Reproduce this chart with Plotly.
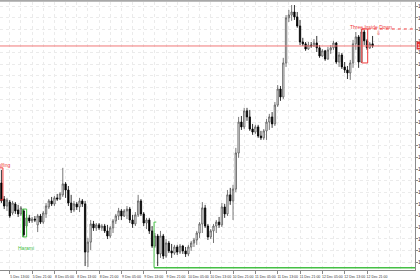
import plotly.graph_objects as go

# ---------------- data (H1 candles, EURUSD-like) ----------------
bars = list(range(134))

open_ = [1.17140, 1.17071, 1.17041, 1.17058, 1.17011, 1.17050, 1.17024, 1.17007, 1.17020, 1.16955,
         1.16990, 1.16977, 1.16985, 1.16960, 1.16998, 1.16972, 1.17007, 1.17037, 1.17063, 1.17050,
         1.17076, 1.17071, 1.17089, 1.17136, 1.17110, 1.17054, 1.17024, 1.17050, 1.17037, 1.17063,
         1.17050, 1.16843, 1.16886, 1.16964, 1.16947, 1.16960, 1.16947, 1.16955, 1.16934, 1.16912,
         1.16947, 1.16977, 1.16998, 1.17020, 1.16998, 1.17020, 1.17028, 1.16981, 1.16964, 1.17003,
         1.17063, 1.17007, 1.16968, 1.16981, 1.16934, 1.16869, 1.16912, 1.16835, 1.16912, 1.16826,
         1.16882, 1.16848, 1.16839, 1.16865, 1.16843, 1.16869, 1.16848, 1.16835, 1.16865, 1.16882,
         1.16895, 1.16925, 1.16964, 1.17033, 1.16955, 1.16908, 1.16934, 1.16955, 1.16972, 1.16960,
         1.17037, 1.17007, 1.17089, 1.17063, 1.17114, 1.17269, 1.17402, 1.17381, 1.17450, 1.17424,
         1.17372, 1.17359, 1.17381, 1.17342, 1.17334, 1.17364, 1.17402, 1.17424, 1.17394, 1.17475,
         1.17544, 1.17510, 1.17656, 1.17850, 1.17862, 1.17875, 1.17854, 1.17815, 1.17746, 1.17738,
         1.17716, 1.17733, 1.17729, 1.17742, 1.17721, 1.17686, 1.17708, 1.17673, 1.17712, 1.17721,
         1.17742, 1.17660, 1.17690, 1.17639, 1.17626, 1.17613, 1.17656, 1.17738, 1.17768, 1.17660,
         1.17789, 1.17751, 1.17721, 1.17738]

high = [1.17196, 1.17084, 1.17076, 1.17067, 1.17063, 1.17058, 1.17046, 1.17041, 1.17028, 1.17007,
        1.17003, 1.16994, 1.16998, 1.17007, 1.17007, 1.17020, 1.17054, 1.17071, 1.17080, 1.17084,
        1.17093, 1.17101, 1.17205, 1.17144, 1.17127, 1.17089, 1.17063, 1.17058, 1.17076, 1.17071,
        1.17063, 1.16904, 1.16981, 1.16977, 1.16968, 1.16968, 1.16964, 1.16964, 1.16960, 1.16955,
        1.16985, 1.17007, 1.17033, 1.17028, 1.17028, 1.17041, 1.17037, 1.17003, 1.17015, 1.17089,
        1.17071, 1.17015, 1.16990, 1.16990, 1.16955, 1.16925, 1.16921, 1.16934, 1.16921, 1.16899,
        1.16891, 1.16878, 1.16874, 1.16874, 1.16878, 1.16874, 1.16865, 1.16874, 1.16891, 1.16904,
        1.16934, 1.16972, 1.17058, 1.17046, 1.16964, 1.16942, 1.16964, 1.16981, 1.16994, 1.17054,
        1.17050, 1.17110, 1.17119, 1.17132, 1.17291, 1.17424, 1.17428, 1.17463, 1.17463, 1.17454,
        1.17394, 1.17390, 1.17390, 1.17364, 1.17372, 1.17415, 1.17437, 1.17445, 1.17488, 1.17561,
        1.17557, 1.17678, 1.17862, 1.17884, 1.17905, 1.17905, 1.17875, 1.17841, 1.17764, 1.17746,
        1.17746, 1.17746, 1.17759, 1.17772, 1.17733, 1.17716, 1.17712, 1.17725, 1.17733, 1.17751,
        1.17746, 1.17703, 1.17699, 1.17660, 1.17643, 1.17669, 1.17755, 1.17789, 1.17776, 1.17802,
        1.17798, 1.17759, 1.17746, 1.17772]

low = [1.17054, 1.17028, 1.17020, 1.16990, 1.17003, 1.17007, 1.16994, 1.16998, 1.16908, 1.16947,
       1.16968, 1.16968, 1.16972, 1.16929, 1.16964, 1.16964, 1.16990, 1.17028, 1.17041, 1.17041,
       1.17063, 1.17067, 1.17080, 1.17076, 1.17041, 1.17011, 1.17015, 1.17024, 1.17015, 1.17037,
       1.16783, 1.16779, 1.16852, 1.16934, 1.16934, 1.16938, 1.16934, 1.16925, 1.16899, 1.16904,
       1.16925, 1.16964, 1.16981, 1.16981, 1.16994, 1.16985, 1.16968, 1.16947, 1.16955, 1.16994,
       1.16998, 1.16955, 1.16942, 1.16921, 1.16861, 1.16861, 1.16783, 1.16818, 1.16813, 1.16818,
       1.16839, 1.16818, 1.16831, 1.16831, 1.16835, 1.16835, 1.16822, 1.16826, 1.16848, 1.16865,
       1.16874, 1.16904, 1.16925, 1.16947, 1.16895, 1.16899, 1.16882, 1.16925, 1.16947, 1.16951,
       1.16990, 1.16998, 1.17046, 1.16981, 1.17101, 1.17248, 1.17368, 1.17372, 1.17407, 1.17364,
       1.17347, 1.17351, 1.17334, 1.17325, 1.17325, 1.17325, 1.17368, 1.17377, 1.17385, 1.17467,
       1.17493, 1.17501, 1.17639, 1.17832, 1.17837, 1.17841, 1.17807, 1.17733, 1.17729, 1.17708,
       1.17712, 1.17721, 1.17725, 1.17703, 1.17678, 1.17682, 1.17665, 1.17669, 1.17695, 1.17712,
       1.17652, 1.17639, 1.17630, 1.17613, 1.17587, 1.17583, 1.17635, 1.17712, 1.17635, 1.17656,
       1.17733, 1.17712, 1.17716, 1.17721]

close = [1.17063, 1.17041, 1.17067, 1.16998, 1.17054, 1.17020, 1.17007, 1.17033, 1.16917, 1.16990,
         1.16977, 1.16985, 1.16981, 1.16998, 1.16972, 1.17011, 1.17041, 1.17063, 1.17050, 1.17076,
         1.17071, 1.17093, 1.17136, 1.17110, 1.17054, 1.17024, 1.17050, 1.17037, 1.17063, 1.17050,
         1.16843, 1.16886, 1.16964, 1.16947, 1.16960, 1.16947, 1.16955, 1.16934, 1.16912, 1.16947,
         1.16977, 1.16998, 1.17020, 1.16998, 1.17020, 1.17028, 1.16981, 1.16964, 1.17003, 1.17063,
         1.17007, 1.16968, 1.16981, 1.16934, 1.16869, 1.16912, 1.16835, 1.16912, 1.16826, 1.16882,
         1.16848, 1.16839, 1.16865, 1.16843, 1.16869, 1.16848, 1.16835, 1.16865, 1.16882, 1.16895,
         1.16925, 1.16964, 1.17033, 1.16955, 1.16908, 1.16934, 1.16955, 1.16972, 1.16960, 1.17037,
         1.17007, 1.17089, 1.17063, 1.17114, 1.17269, 1.17402, 1.17381, 1.17450, 1.17424, 1.17372,
         1.17359, 1.17381, 1.17342, 1.17334, 1.17364, 1.17402, 1.17424, 1.17394, 1.17475, 1.17544,
         1.17510, 1.17656, 1.17850, 1.17862, 1.17875, 1.17854, 1.17815, 1.17746, 1.17738, 1.17716,
         1.17733, 1.17729, 1.17742, 1.17721, 1.17686, 1.17708, 1.17673, 1.17712, 1.17721, 1.17742,
         1.17660, 1.17690, 1.17639, 1.17626, 1.17613, 1.17656, 1.17738, 1.17768, 1.17660, 1.17789,
         1.17751, 1.17721, 1.17738, 1.17729]

tick_bars = [3, 11, 19, 27, 35, 43, 51, 59, 67, 75, 83, 91, 99, 107, 115, 123, 131]
tick_labels = ["5 Dec 13:00", "5 Dec 21:00", "8 Dec 05:00", "8 Dec 13:00", "8 Dec 21:00",
               "9 Dec 05:00", "9 Dec 13:00", "9 Dec 21:00", "10 Dec 05:00", "10 Dec 13:00",
               "10 Dec 21:00", "11 Dec 05:00", "11 Dec 13:00", "11 Dec 21:00", "12 Dec 05:00",
               "12 Dec 13:00", "12 Dec 21:00"]
first_label = "5 Dec 2025"

# candlestick patterns: (first bar, last bar) and levels
harami_bars = (8, 9)
three_inside_bars = (129, 131)
engulf_top, engulf_bottom = 1.17205, 1.17067
bull_top, bull_low = 1.16972, 1.16776

X_RANGE = [-0.5, 148.2]
Y_RANGE = [1.16766, 1.17918]

RED = "#f03c3c"
GREEN = "#45c045"
GRID = "#ebebeb"
AXIS = "#8a8a8a"

fig = go.Figure(go.Candlestick(
    x=bars, open=open_, high=high, low=low, close=close,
    increasing=dict(line=dict(color="#555555", width=0.8), fillcolor="white"),
    decreasing=dict(line=dict(color="#000000", width=0.8), fillcolor="black"),
    whiskerwidth=0, hoverinfo="skip"))

fig.update_layout(
    width=420, height=280, margin=dict(l=0, r=5, t=2, b=10, autoexpand=False),
    paper_bgcolor="white", plot_bgcolor="white", showlegend=False,
    font=dict(family="Liberation Sans", size=5, color="#222222"))

fig.update_xaxes(
    range=X_RANGE, rangeslider_visible=False, tickmode="array", automargin=False,
    tickvals=tick_bars, ticktext=tick_labels, tickangle=0,
    showgrid=True, gridcolor=GRID, griddash="dot", gridwidth=1,
    minor=dict(tickmode="linear", tick0=3, dtick=4, showgrid=True,
               gridcolor=GRID, griddash="dot", gridwidth=1),
    ticks="outside", ticklen=3, tickcolor=AXIS, tickwidth=1,
    showline=True, linecolor=AXIS, linewidth=1, zeroline=False,
    tickfont=dict(size=3.5, color="#333333"), ticklabelshift=10, ticklabelstandoff=0)

fig.update_yaxes(
    side="right", range=Y_RANGE, tickmode="linear", tick0=1.168, dtick=0.0005,
    automargin=False, ticklabelstandoff=-1,
    tickformat=".5f", showgrid=True, gridcolor=GRID, griddash="dot", gridwidth=1,
    ticks="outside", ticklen=2, tickcolor=AXIS, showline=True, linecolor=AXIS,
    linewidth=1, zeroline=False, tickfont=dict(size=5, color="#333333"))

last = close[-1]
hb0, hb1 = harami_bars
tb0, tb1 = three_inside_bars
t_hi = max(high[tb0:tb1 + 1])
t_lo = min(low[tb0:tb1 + 1])

shapes = [
    # top border
    dict(type="line", xref="paper", yref="paper", x0=0, x1=1.05, y0=1.005, y1=1.005,
         line=dict(color="#a8a8a8", width=2)),
    # bid line
    dict(type="line", xref="paper", yref="y", x0=0, x1=1, y0=last, y1=last,
         line=dict(color="#f07878", width=1)),
    # three inside down box & level
    dict(type="rect", xref="x", yref="y", x0=tb0 + 0.15, x1=tb1 + 0.25, y0=t_lo, y1=t_hi,
         line=dict(color=RED, width=1)),
    dict(type="line", xref="x", yref="y", x0=tb0 + 0.15, x1=X_RANGE[1], y0=t_hi, y1=t_hi,
         line=dict(color=RED, width=1, dash="dot")),
    # harami box
    dict(type="rect", xref="x", yref="y", x0=hb0 - 0.4, x1=hb1 + 0.05,
         y0=low[hb0], y1=high[hb0], line=dict(color=GREEN, width=1)),
    # engulfing box (left edge)
    dict(type="rect", xref="x", yref="y", x0=-1.3, x1=0.55, y0=engulf_bottom, y1=engulf_top,
         line=dict(color=RED, width=1)),
    # bullish pattern bracket at the lows
    dict(type="line", xref="x", yref="y", x0=55 - 0.3, x1=55 - 0.3, y0=bull_top, y1=bull_low,
         line=dict(color=GREEN, width=1)),
    dict(type="line", xref="x", yref="y", x0=55 - 0.3, x1=55.5, y0=bull_top, y1=bull_top,
         line=dict(color=GREEN, width=1)),
    dict(type="line", xref="x", yref="y", x0=55 - 0.3, x1=X_RANGE[1], y0=bull_low, y1=bull_low,
         line=dict(color=GREEN, width=1.5)),
]
fig.update_layout(shapes=shapes)

annotations = [
    dict(x=tb0 + 3.5, y=t_hi + 0.00010, xref="x", yref="y", text="Three Inside Down",
         showarrow=False, font=dict(size=5, color=RED), yanchor="middle"),
    dict(x=tb1 + 4.0, y=t_hi - 0.00016, xref="x", yref="y", text="⇩",
         showarrow=False, font=dict(size=6, color=RED, family="DejaVu Sans")),
    dict(x=hb0 + 0.8, y=low[hb0] - 0.00048, xref="x", yref="y", text="Harami",
         showarrow=False, font=dict(size=5, color=GREEN)),
    dict(x=3.8, y=engulf_top + 0.00012, xref="x", yref="y", text="Bearish Engulfing",
         showarrow=False, xanchor="right", font=dict(size=5, color=RED)),
    dict(x=55.7, y=bull_low - 0.00018, xref="x", yref="y", text="Morning Star",
         showarrow=False, font=dict(size=3.5, color=GREEN)),
    dict(x=-5, y=0, xref="x", yref="paper", text=first_label, showarrow=False,
         xanchor="left", yanchor="top", yshift=-3, xshift=0,
         font=dict(size=3.5, color="#333333")),
    dict(x=1, y=last, xref="paper", yref="y", text=f"{last:.5f}", showarrow=False,
         xanchor="left", xshift=1, bgcolor="#e03030", borderpad=0.5,
         font=dict(size=5, color="white")),
]
fig.update_layout(annotations=annotations)

fig.write_html("out.html")
